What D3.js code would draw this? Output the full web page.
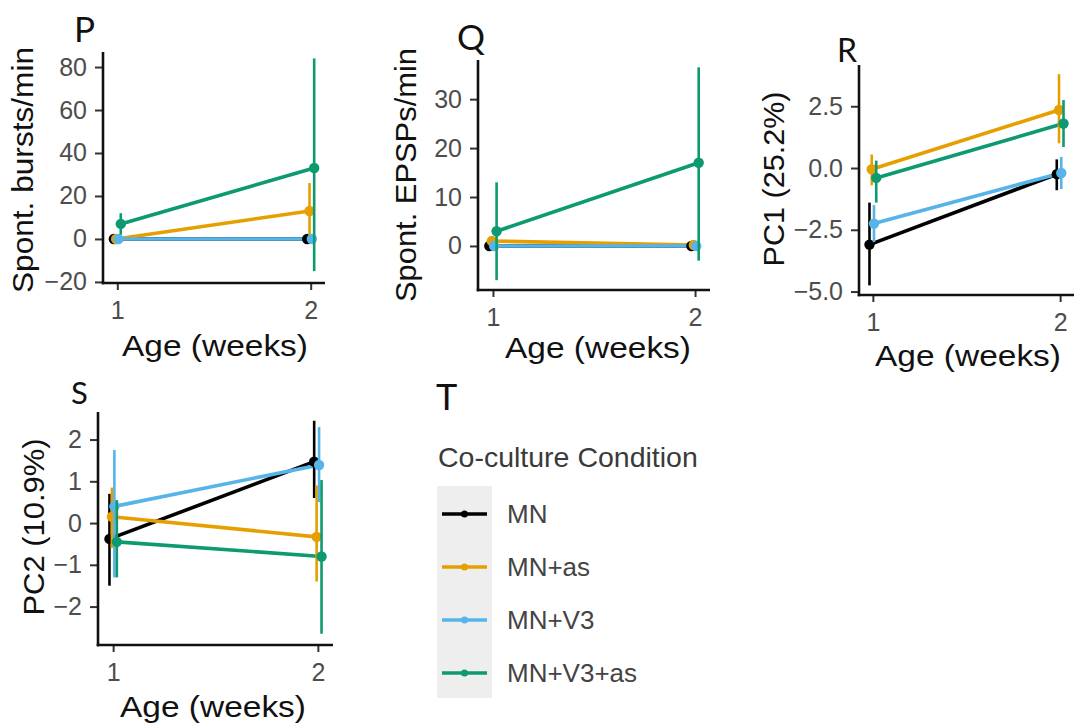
<!DOCTYPE html>
<html><head><meta charset="utf-8">
<script src="https://cdn.jsdelivr.net/npm/d3@7"></script>
<style>
body{margin:0;background:#fff}
text{font-family:"Liberation Sans",Arial,sans-serif}
</style>
</head><body>
<svg id="chart" width="1077" height="727"></svg>
<script>
// ---------------- data ----------------
const ages = [1, 2];
const conditions = ["MN", "MN+as", "MN+V3", "MN+V3+as"];
const conditionColors = ["#000000", "#E69F00", "#56B4E9", "#0E9A70"];

// Panel P: spontaneous bursts / min  (rows = conditions, cols = ages)
const burstsMean = [[0, 0], [0, 13], [0, 0], [7, 33]];
const burstsLow  = [[0, 0], [0, 0], [0, 0], [2, -15]];
const burstsHigh = [[0, 0], [0, 26], [0, 0], [12, 84]];
const burstsTicks = [-20, 0, 20, 40, 60, 80];

// Panel Q: spontaneous EPSPs / min
const epspMean = [[0, 0], [1, 0.2], [0, 0], [3, 17]];
const epspLow  = [[0, 0], [0.5, 0], [0, 0], [-7, -3]];
const epspHigh = [[0, 0], [1.5, 0.5], [0, 0], [13, 36.5]];
const epspTicks = [0, 10, 20, 30];

// Panel R: PC1 (25.2%)
const pc1Mean = [[-3.1, -0.25], [-0.05, 2.35], [-2.25, -0.2], [-0.4, 1.8]];
const pc1Low  = [[-4.75, -0.9], [-0.7, 1.0], [-3.0, -0.85], [-1.4, 0.85]];
const pc1High = [[-1.4, 0.35], [0.55, 3.8], [-1.5, 0.45], [0.3, 2.75]];
const pc1Ticks = [-5, -2.5, 0, 2.5];

// Panel S: PC2 (10.9%)
const pc2Mean = [[-0.38, 1.47], [0.15, -0.33], [0.4, 1.39], [-0.45, -0.8]];
const pc2Low  = [[-1.5, 0.6], [-0.6, -1.4], [-1.3, 0.5], [-1.3, -2.65]];
const pc2High = [[0.7, 2.45], [0.85, 0.9], [1.75, 2.3], [0.55, 1.03]];
const pc2Ticks = [-2, -1, 0, 1, 2];

const ageTicks = [1, 2];
const xLabel = "Age (weeks)";
const legendTitle = "Co-culture Condition";

// ---------------- layout ----------------
const xDomain = [0.926, 2.074];
const dodgeStep = 0.012;

const panels = [
  {tag:"P", yLabel:"Spont. bursts/min", mean:burstsMean, low:burstsLow, high:burstsHigh, ticks:burstsTicks, fmt:d3.format("d"),
   box:{l:103, r:325, t:52, b:283}, yDomain:[-20.5, 87],
   tagPos:[74, 42, 35], xLab:[215, 356], yLab:[33, 170, 246]},
  {tag:"Q", yLabel:"Spont. EPSPs/min", mean:epspMean, low:epspLow, high:epspHigh, ticks:epspTicks, fmt:d3.format("d"),
   box:{l:478, r:710, t:60, b:290}, yDomain:[-9, 38],
   tagPos:[457, 50, 35], xLab:[598, 358], yLab:[416, 175, 254]},
  {tag:"R", yLabel:"PC1 (25.2%)", mean:pc1Mean, low:pc1Low, high:pc1High, ticks:pc1Ticks, fmt:d3.format(".1f"),
   box:{l:859, r:1074, t:65, b:295}, yDomain:[-5.14, 4.17],
   tagPos:[837, 62, 32], xLab:[968, 366], yLab:[784, 179, 175]},
  {tag:"S", yLabel:"PC2 (10.9%)", mean:pc2Mean, low:pc2Low, high:pc2High, ticks:pc2Ticks, fmt:d3.format("d"),
   box:{l:98, r:333, t:412, b:645}, yDomain:[-2.92, 2.66],
   tagPos:[71, 404, 31], xLab:[213, 717], yLab:[44, 527, 177]}
];

const svg = d3.select("#chart");

panels.forEach(p => {
  const g = svg.append("g");
  const x = d3.scaleLinear().domain(xDomain).range([p.box.l, p.box.r]);
  const y = d3.scaleLinear().domain(p.yDomain).range([p.box.b, p.box.t]);
  const xd = (age, ci) => x(age + (ci - 1.5) * dodgeStep);

  // lines
  conditions.forEach((c, ci) => {
    const pts = ages.map((a, ai) => [xd(a, ci), y(p.mean[ci][ai])]);
    g.append("path")
      .attr("d", d3.line()(pts))
      .attr("fill", "none")
      .attr("stroke", conditionColors[ci])
      .attr("stroke-width", 3.6)
      .attr("stroke-linecap", "round");
  });
  // pointranges
  conditions.forEach((c, ci) => {
    ages.forEach((a, ai) => {
      g.append("line")
        .attr("x1", xd(a, ci)).attr("x2", xd(a, ci))
        .attr("y1", y(p.low[ci][ai])).attr("y2", y(p.high[ci][ai]))
        .attr("stroke", conditionColors[ci]).attr("stroke-width", 2.6);
      g.append("circle")
        .attr("cx", xd(a, ci)).attr("cy", y(p.mean[ci][ai]))
        .attr("r", 5.2).attr("fill", conditionColors[ci]);
    });
  });

  // axes
  const yAxis = d3.axisLeft(y).tickValues(p.ticks).tickFormat(p.fmt).tickSize(8).tickPadding(8);
  const ya = g.append("g").attr("transform", `translate(${p.box.l},0)`).call(yAxis);
  const xAxis = d3.axisBottom(x).tickValues(ageTicks).tickFormat(d3.format("d")).tickSize(7).tickPadding(11);
  const xa = g.append("g").attr("transform", `translate(0,${p.box.b})`).call(xAxis);
  [ya, xa].forEach(a => {
    a.select(".domain").remove();
    a.selectAll(".tick line").attr("stroke", "#333").attr("stroke-width", 2);
    a.selectAll(".tick text").attr("fill", "#4d4d4d").style("font-size", "25px");
  });
  g.append("line").attr("x1", p.box.l).attr("x2", p.box.l).attr("y1", p.box.t).attr("y2", p.box.b + 1.3)
    .attr("stroke", "#111").attr("stroke-width", 2.6);
  g.append("line").attr("x1", p.box.l - 1.3).attr("x2", p.box.r).attr("y1", p.box.b).attr("y2", p.box.b)
    .attr("stroke", "#111").attr("stroke-width", 2.6);

  // titles
  g.append("text").attr("x", p.xLab[0]).attr("y", p.xLab[1]).attr("text-anchor", "middle")
    .attr("textLength", 186).attr("lengthAdjust", "spacingAndGlyphs")
    .style("font-size", "30px").attr("fill", "#111").text(xLabel);
  g.append("text").attr("transform", `translate(${p.yLab[0]},${p.yLab[1]}) rotate(-90)`)
    .attr("text-anchor", "middle").attr("textLength", p.yLab[2]).attr("lengthAdjust", "spacingAndGlyphs")
    .style("font-size", "30px").attr("fill", "#111").text(p.yLabel);
  g.append("text").attr("x", p.tagPos[0]).attr("y", p.tagPos[1])
    .style("font-family", "Lato, 'Open Sans', sans-serif").style("font-size", p.tagPos[2] + "px")
    .attr("fill", "#111").text(p.tag);
});

// ---------------- legend (panel T) ----------------
const lg = svg.append("g");
lg.append("text").attr("x", 436).attr("y", 410)
  .style("font-family", "Lato, 'Open Sans', sans-serif").style("font-size", "36px").attr("fill", "#111").text("T");
lg.append("text").attr("x", 438).attr("y", 467).style("font-size", "28.5px").attr("fill", "#3a3a3a").text(legendTitle);
const rowY = d3.scalePoint().domain(conditions).range([514, 673]);
lg.append("rect").attr("x", 437).attr("y", 486).attr("width", 55).attr("height", 212).attr("fill", "#eeeeee");
conditions.forEach((c, ci) => {
  const yy = rowY(c);
  lg.append("line").attr("x1", 442).attr("x2", 487).attr("y1", yy).attr("y2", yy)
    .attr("stroke", conditionColors[ci]).attr("stroke-width", 3.6);
  lg.append("circle").attr("cx", 464.5).attr("cy", yy).attr("r", 3.5).attr("fill", conditionColors[ci]);
  lg.append("text").attr("x", 507).attr("y", yy).attr("dy", "0.36em").style("font-size", "26px")
    .attr("fill", "#444").text(c);
});
</script>
</body></html>
